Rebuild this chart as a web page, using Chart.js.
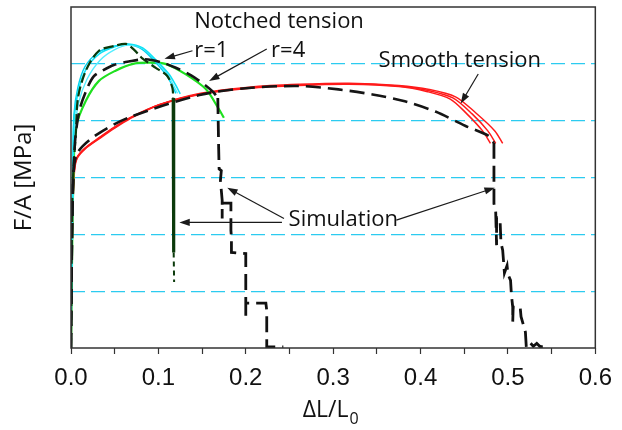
<!DOCTYPE html>
<html>
<head>
<meta charset="utf-8">
<script src="https://cdn.jsdelivr.net/npm/chart.js@4.4.1/dist/chart.umd.min.js"></script>
<style>
  html, body { margin: 0; padding: 0; background: #fff; }
</style>
</head>
<body>
<canvas id="grafica" width="622" height="430"></canvas>
<script>
// Ejes
const marcasX = [0, 0.1, 0.2, 0.3, 0.4, 0.5, 0.6];
const lineasY = [1, 2, 3, 4, 5];

// Tracción lisa (tres ensayos, rojo)
const rojo1X = [0, 0.0011, 0.0023, 0.004, 0.007, 0.016, 0.033, 0.05, 0.067, 0.101, 0.147, 0.204, 0.261, 0.318, 0.375, 0.409, 0.437, 0.459, 0.477, 0.486];
const rojo1Y = [0, 1.72, 2.6, 3.15, 3.35, 3.51, 3.7, 3.88, 4.04, 4.28, 4.47, 4.58, 4.63, 4.65, 4.61, 4.53, 4.4, 4.12, 3.82, 3.6];
const rojo2X = [0, 0.0012, 0.0024, 0.0041, 0.0072, 0.016, 0.033, 0.05, 0.067, 0.101, 0.147, 0.204, 0.261, 0.318, 0.375, 0.41, 0.44, 0.463, 0.485, 0.494];
const rojo2Y = [0, 1.7, 2.58, 3.13, 3.34, 3.5, 3.69, 3.87, 4.03, 4.28, 4.48, 4.59, 4.64, 4.66, 4.62, 4.55, 4.42, 4.14, 3.82, 3.6];
const rojo3X = [0, 0.001, 0.0022, 0.0039, 0.007, 0.016, 0.033, 0.05, 0.067, 0.101, 0.147, 0.204, 0.261, 0.318, 0.375, 0.408, 0.434, 0.453, 0.471, 0.48];
const rojo3Y = [0, 1.75, 2.62, 3.16, 3.36, 3.52, 3.71, 3.89, 4.05, 4.28, 4.46, 4.57, 4.62, 4.64, 4.6, 4.51, 4.38, 4.12, 3.82, 3.6];

// Simulación tracción lisa
const lisaSimX = [0, 0.001, 0.003, 0.008, 0.03, 0.067, 0.147, 0.2, 0.26, 0.306, 0.345, 0.382, 0.417, 0.451, 0.477, 0.484];
const lisaSimY = [0, 1.8, 3.1, 3.45, 3.76, 4.06, 4.45, 4.57, 4.61, 4.55, 4.46, 4.34, 4.16, 3.91, 3.74, 3.61];
const lisaCaidaX = [0.484, 0.484, 0.486, 0.487, 0.487, 0.491, 0.492, 0.494, 0.496, 0.499, 0.5, 0.503, 0.504, 0.5055, 0.5055, 0.506, 0.514, 0.515, 0.52, 0.521, 0.525, 0.529, 0.533, 0.537, 0.543];
const lisaCaidaY = [3.61, 2.54, 2.4, 1.81, 2.3, 2.25, 1.85, 1.72, 1.32, 1.45, 1.3, 1.19, 0.93, 0.72, 0.46, 0.72, 0.72, 0.55, 0.28, 0.02, 0.1, 0.03, 0.08, 0.02, 0.04];

// Entalla r=4 (verde) y su simulación
const verdeX = [0, 0.0012, 0.0025, 0.0057, 0.017, 0.032, 0.051, 0.071, 0.088, 0.108, 0.131, 0.154, 0.169, 0.175];
const verdeY = [0, 1.6, 2.8, 3.88, 4.35, 4.7, 4.88, 5.0, 5.02, 5.0, 4.82, 4.56, 4.21, 4.05];
const r4SimX = [0, 0.001, 0.0025, 0.005, 0.01, 0.018, 0.026, 0.036, 0.049, 0.066, 0.085, 0.105, 0.12, 0.137, 0.154, 0.163, 0.168];
const r4SimY = [0, 1.7, 2.9, 3.7, 4.2, 4.55, 4.78, 4.88, 4.98, 5.04, 5.08, 5.02, 4.93, 4.8, 4.62, 4.5, 4.4];
const r4CaidaX = [0.168, 0.169, 0.1695, 0.172, 0.171, 0.173, 0.173, 0.173, 0.183, 0.183, 0.1836, 0.1836, 0.2, 0.2, 0.2, 0.2, 0.223, 0.224, 0.224, 0.243];
const r4CaidaY = [4.4, 3.5, 3.15, 3.12, 2.95, 2.6, 2.28, 2.55, 2.55, 2.07, 1.95, 1.68, 1.66, 0.81, 0.53, 0.79, 0.79, 0.66, 0.02, 0.02];

// Entalla r=1 (cian) y su simulación (verde oscuro)
const cian1X = [0, 0.001, 0.0022, 0.0034, 0.008, 0.017, 0.032, 0.05, 0.066, 0.082, 0.097, 0.112, 0.12, 0.125];
const cian1Y = [0, 1.7, 3.0, 4.0, 4.5, 4.9, 5.17, 5.3, 5.35, 5.28, 5.07, 4.82, 4.62, 4.47];
const cian2X = [0, 0.001, 0.0023, 0.0036, 0.0085, 0.018, 0.033, 0.05, 0.066, 0.082, 0.097, 0.111, 0.118, 0.122];
const cian2Y = [0, 1.5, 2.7, 3.7, 4.3, 4.72, 5.06, 5.25, 5.33, 5.27, 5.06, 4.8, 4.6, 4.48];
const cian3X = [0, 0.001, 0.0021, 0.0033, 0.0078, 0.016, 0.031, 0.049, 0.065, 0.081, 0.096, 0.11, 0.117, 0.12];
const cian3Y = [0, 1.8, 3.1, 4.1, 4.58, 4.95, 5.2, 5.31, 5.34, 5.26, 5.04, 4.78, 4.58, 4.48];
const r1SimX = [0, 0.0008, 0.002, 0.0057, 0.008, 0.017, 0.032, 0.051, 0.063, 0.072, 0.082, 0.097, 0.11, 0.116, 0.117];
const r1SimY = [0, 1.6, 2.9, 3.82, 4.4, 4.88, 5.23, 5.32, 5.35, 5.25, 5.09, 4.93, 4.79, 4.58, 4.4];
const r1CaidaX = [0.117, 0.1175, 0.118];
const r1CaidaY = [4.4, 1.68, 1.16];

// Textos y flechas (en unidades de los ejes)
const notas = [
    { texto: "Notched tension", x: 0.141, y: 5.63 },
    { texto: "r=1", x: 0.141, y: 5.12 },
    { texto: "r=4", x: 0.229, y: 5.12 },
    { texto: "Smooth tension", x: 0.352, y: 4.95 },
    { texto: "Simulation", x: 0.249, y: 2.14 },
];
const flechas = [
    [0.139, 5.23, 0.107, 5.09],
    [0.224, 5.26, 0.158, 4.70],
    [0.466, 4.82, 0.446, 4.30],
    [0.2414, 2.21, 0.124, 2.21],
    [0.2437, 2.28, 0.1788, 2.82],
    [0.3723, 2.25, 0.485, 2.82],
];

const grafica = document.getElementById("grafica");

function puntos(xs, ys) {
    return xs.map((x, i) => ({ x: x, y: ys[i] }));
}

function serie(xs, ys, color, ancho, guiones, tension) {
    return {
        data: puntos(xs, ys),
        borderColor: color,
        borderWidth: ancho,
        borderDash: guiones || [],
        tension: tension,
        showLine: true,
        pointRadius: 0,
        fill: false,
    };
}

function dibujarFlecha(ctx, x1, y1, x2, y2) {
    const ang = Math.atan2(y2 - y1, x2 - x1);
    const largo = 11;
    const abre = 0.33;
    ctx.beginPath();
    ctx.moveTo(x1, y1);
    ctx.lineTo(x2 - Math.cos(ang) * largo * 0.8, y2 - Math.sin(ang) * largo * 0.8);
    ctx.stroke();
    ctx.beginPath();
    ctx.moveTo(x2, y2);
    ctx.lineTo(x2 - largo * Math.cos(ang - abre), y2 - largo * Math.sin(ang - abre));
    ctx.lineTo(x2 - largo * Math.cos(ang + abre), y2 - largo * Math.sin(ang + abre));
    ctx.closePath();
    ctx.fill();
}

// Marco, flechas, textos y título del eje x con subíndice
const pluginNotas = {
    id: "notas",
    afterDraw(chart) {
        const { ctx, chartArea: a } = chart;
        const ex = chart.scales.x;
        const ey = chart.scales.y;
        ctx.save();

        ctx.strokeStyle = "#333";
        ctx.lineWidth = 1.5;
        ctx.strokeRect(a.left, a.top, a.right - a.left, a.bottom - a.top);

        ctx.strokeStyle = "#1a1a1a";
        ctx.fillStyle = "#1a1a1a";
        ctx.lineWidth = 1.2;
        flechas.forEach(f => {
            dibujarFlecha(ctx,
                ex.getPixelForValue(f[0]), ey.getPixelForValue(f[1]),
                ex.getPixelForValue(f[2]), ey.getPixelForValue(f[3]));
        });

        ctx.fillStyle = "#111";
        ctx.font = '22px "Open Sans"';
        ctx.textBaseline = "alphabetic";
        ctx.textAlign = "left";
        notas.forEach(n => {
            ctx.fillText(n.texto, ex.getPixelForValue(n.x), ey.getPixelForValue(n.y));
        });

        // ΔL/L0
        const base = "\u0394L/L";
        ctx.font = '23px "Open Sans"';
        const w1 = ctx.measureText(base).width;
        ctx.font = '16px "Open Sans"';
        const w2 = ctx.measureText("0").width;
        const cx = (a.left + a.right) / 2 - 3;
        const x0 = cx - (w1 + w2) / 2;
        ctx.font = '23px "Open Sans"';
        ctx.fillText(base, x0, 417);
        ctx.font = '16px "Open Sans"';
        ctx.fillText("0", x0 + w1 + 1, 424);

        ctx.restore();
    }
};

const datos = {
    datasets: [
        serie(lisaSimX, lisaSimY, "#151515", 2.6, [15, 7], 0.3),
        serie(lisaCaidaX, lisaCaidaY, "#111", 2.8, [16, 7], 0),
        serie(r4SimX, r4SimY, "#151515", 2.6, [15, 7], 0.3),
        serie(r4CaidaX, r4CaidaY, "#111", 2.8, [16, 7], 0),
        serie(r1SimX, r1SimY, "#0b3a0b", 2.2, [10, 4], 0.3),
        Object.assign(serie(r1CaidaX, r1CaidaY, "#0b3a0b", 3, [], 0), {
            segment: {
                borderDash: c => c.p0DataIndex === 1 ? [5, 4] : [],
                borderWidth: c => c.p0DataIndex === 1 ? 2 : 3.2,
            }
        }),
        serie(cian1X, cian1Y, "#10e2f5", 1.6, [], 0.3),
        serie(cian2X, cian2Y, "#55eeff", 1.4, [], 0.3),
        serie(cian3X, cian3Y, "#00d0ec", 1.4, [], 0.3),
        serie(verdeX, verdeY, "#1fe01f", 2.2, [], 0.3),
        serie(rojo1X, rojo1Y, "#ff1a1a", 1.5, [], 0.3),
        serie(rojo2X, rojo2Y, "#ff1a1a", 1.5, [], 0.3),
        serie(rojo3X, rojo3Y, "#ff1a1a", 1.5, [], 0.3),
    ],
};

const opciones = {
    responsive: false,
    animation: false,
    devicePixelRatio: 1,
    layout: { padding: { top: 7, right: 24, left: 0, bottom: 0 } },
    plugins: {
        legend: { display: false },
        tooltip: { enabled: false },
    },
    scales: {
        x: {
            type: "linear",
            min: 0,
            max: 0.6,
            afterFit: s => { s.height = 82; },
            border: { display: false },
            grid: {
                drawOnChartArea: false,
                drawTicks: true,
                tickLength: 6,
                tickColor: "#333",
                tickWidth: 1.2,
            },
            ticks: {
                stepSize: 0.05,
                autoSkip: false,
                maxRotation: 0,
                padding: 10,
                color: "#111",
                font: { family: '"Liberation Sans Narrow", "Liberation Sans"', size: 24 },
                callback: v => marcasX.some(m => Math.abs(m - v) < 1e-6) ? v.toFixed(1) : "",
            },
        },
        y: {
            min: 0,
            max: 6,
            afterFit: s => { s.width = 71; },
            border: { display: false, dash: [14, 6] },
            grid: {
                drawTicks: false,
                lineWidth: 1.2,
                color: c => lineasY.includes(c.tick.value) ? "#2ccbf0" : "rgba(0,0,0,0)",
            },
            ticks: { display: false, stepSize: 1 },
            title: {
                display: true,
                text: "F/A [MPa]",
                color: "#111",
                font: { family: '"Open Sans"', size: 24 },
                padding: { top: 10, bottom: 0 },
            },
        },
    },
};

window.myChart = new Chart(grafica, {
    type: "scatter",
    data: datos,
    options: opciones,
    plugins: [pluginNotas],
});
</script>
</body>
</html>
